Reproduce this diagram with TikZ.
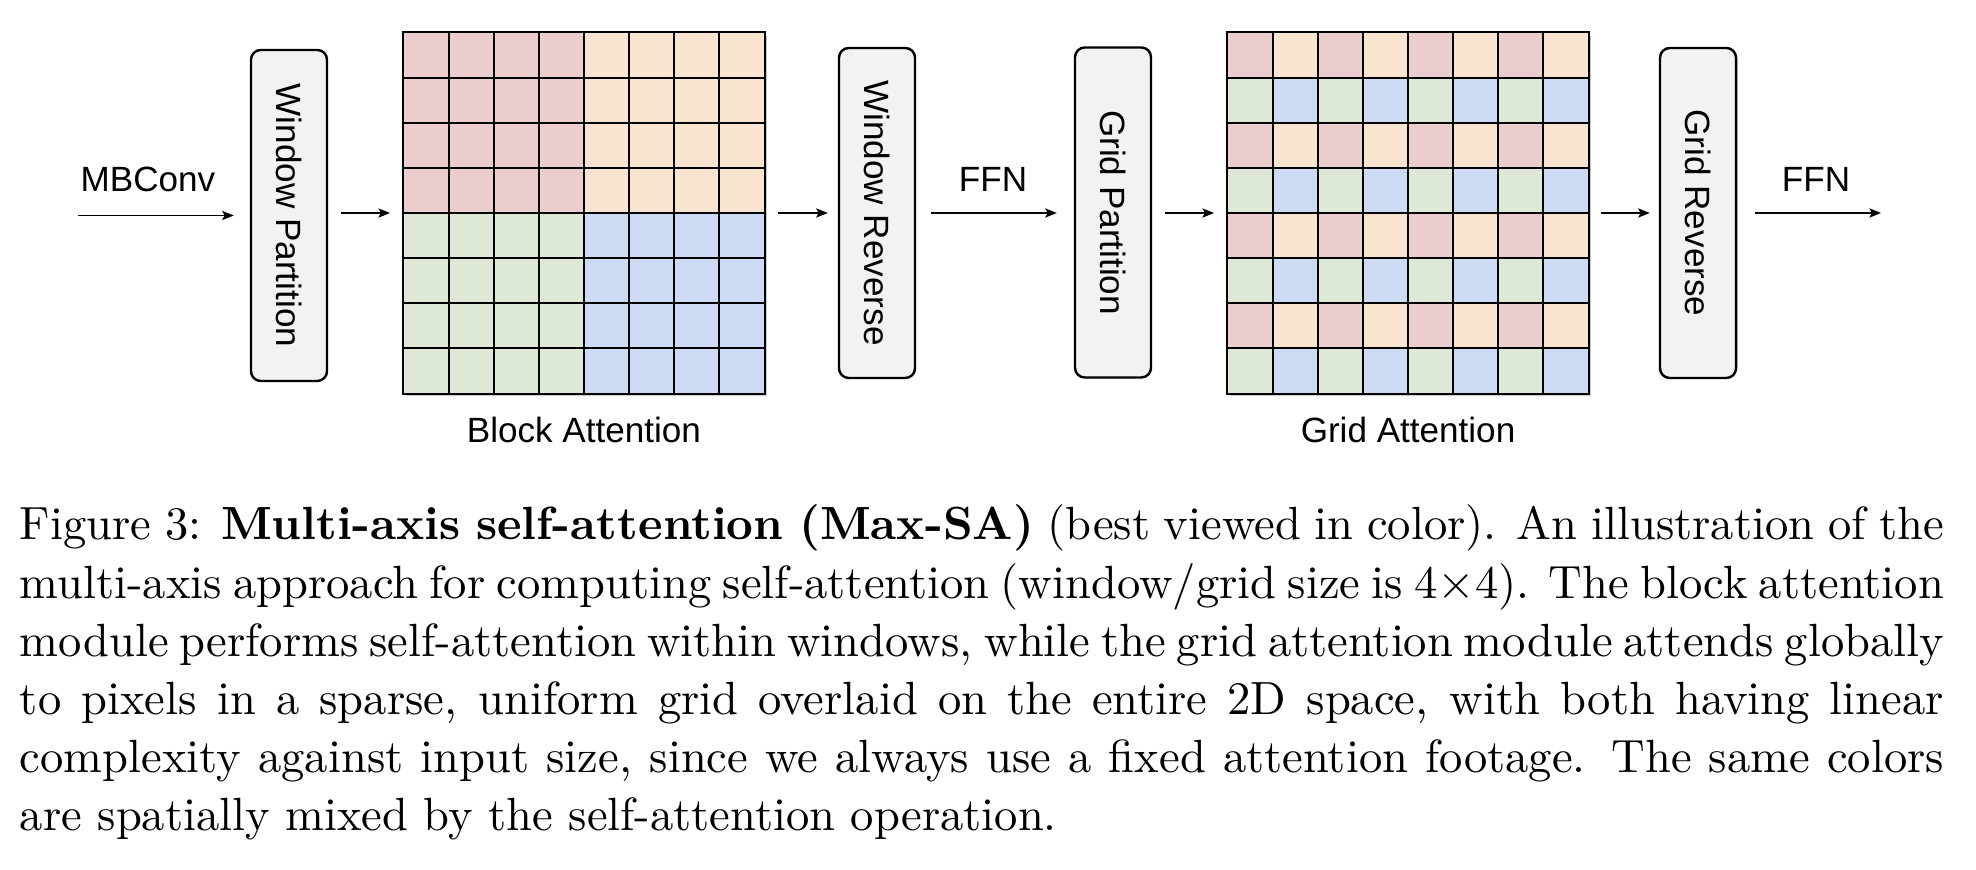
\documentclass[tikz,border=0pt]{standalone}
\usepackage{fontspec}
\newfontfamily\diagfont{Liberation Sans}
\usetikzlibrary{arrows.meta,shadows}
\newcommand{\pxu}{0.2066pt}
\definecolor{cell0}{HTML}{EBCDCD}
\definecolor{cell1}{HTML}{F9E5CF}
\definecolor{cell2}{HTML}{DDE8D6}
\definecolor{cell3}{HTML}{CCDAF3}
\definecolor{boxfill}{HTML}{F2F2F2}
\tikzset{
  boxnode/.style={draw=black, line width=0.5pt, fill=boxfill, rounded corners=2pt,
    minimum width=76*\pxu, minimum height=330*\pxu, inner sep=0pt},
  lbl/.style={font=\diagfont\fontsize{7.25}{8.7}\selectfont, inner sep=0pt},
  arr/.style={line width=0.3pt, -{Stealth[length=2.4pt,width=1.9pt,inset=0.5pt]}},
  gridnode/.style={fill=white, minimum size=360*\pxu, inner sep=0pt,
    drop shadow={shadow xshift=0.6pt, shadow yshift=-0.6pt, opacity=0.35, fill=black!60}},
  cellline/.style={line width=0.5pt},
  frameline/.style={line width=0.55pt},
}
\begin{document}
\begin{tikzpicture}[x=\pxu, y=-\pxu]
\useasboundingbox (0,0) rectangle (1976,870);

% boxes
\node[boxnode, minimum height=331*\pxu] (wp) at (289,215.5) {};
\node[lbl, rotate=-90] (wpl) at (wp.center) {Window Partition};
\node[boxnode] (wr) at (877,213) {};
\node[lbl, rotate=-90] (wrl) at (wr.center) {Window Reverse};
\node[boxnode] (gp) at (1113,212.5) {};
\node[lbl, rotate=-90] (gpl) at (gp.center) {Grid Partition};
\node[boxnode] (gr) at (1698,213) {};
\node[lbl, rotate=-90] (grl) at (gr.center) {Grid Reverse};

% block attention grid
\node[gridnode] (bgrid) at (584,213) {};
\fill[cell0] (404,33) rectangle (584,213);
\fill[cell1] (584,33) rectangle (764,213);
\fill[cell2] (404,213) rectangle (584,393);
\fill[cell3] (584,213) rectangle (764,393);
\foreach \k in {1,...,7} {
  \draw[cellline] (404+\k*45,33) -- (404+\k*45,393);
  \draw[cellline] (404,33+\k*45) -- (764,33+\k*45);
}
\draw[frameline] (bgrid.north west) rectangle (bgrid.south east);
\node[lbl, anchor=base] (bgl) at (584,443) {Block Attention};

% grid attention grid
\node[gridnode] (ggrid) at (1408,213) {};
\foreach \r in {0,...,7} {
  \foreach \c in {0,...,7} {
    \pgfmathtruncatemacro\ci{mod(\r,2)*2+mod(\c,2)}
    \fill[fill=cell\ci] (1228+\c*45,33+\r*45) rectangle ++(45,45);
  }
}
\foreach \k in {1,...,7} {
  \draw[cellline] (1228+\k*45,33) -- (1228+\k*45,393);
  \draw[cellline] (1228,33+\k*45) -- (1588,33+\k*45);
}
\draw[frameline] (ggrid.north west) rectangle (ggrid.south east);
\node[lbl, anchor=base] (ggl) at (1408,443) {Grid Attention};

% labels
\node[lbl, anchor=base] (mbl) at (148,192) {MBConv};
\node[lbl, anchor=base] (ffn1) at (993,192) {FFN};
\node[lbl, anchor=base] (ffn2) at (1816,192) {FFN};

% connectors
\coordinate (in) at (78,215.5);
\coordinate (out) at (1881,213);
\draw[arr, shorten >=16*\pxu] (in) -- (wp.west);
\draw[arr, shorten <=13*\pxu, shorten >=13*\pxu] (wp.east |- bgrid.west) -- (bgrid.west);
\draw[arr, shorten <=13*\pxu, shorten >=10*\pxu] (bgrid.east) -- (wr.west |- bgrid.east);
\draw[arr, shorten <=15*\pxu, shorten >=17*\pxu] (wr.east) -- (gp.west |- wr.east);
\draw[arr, shorten <=13*\pxu, shorten >=13*\pxu] (gp.east |- ggrid.west) -- (ggrid.west);
\draw[arr, shorten <=12*\pxu, shorten >=9*\pxu] (ggrid.east) -- (gr.west |- ggrid.east);
\draw[arr, shorten <=18*\pxu] (gr.east) -- (out);

% caption
\node[anchor=base west, inner sep=0pt, text width=397.5pt, align=justify,
  font=\fontsize{9.62}{12}\selectfont] (cap) at (19,540) {Figure 3: \textbf{Multi-axis self-attention (Max-SA)} (best viewed in color). An illustration of the\linebreak multi-axis approach for computing self-attention (window/grid size is 4$\times$4). The block attention\linebreak module performs self-attention within windows, while the grid attention module attends globally\linebreak to pixels in a sparse, uniform grid overlaid on the entire 2D space, with both having linear\linebreak complexity against input size, since we always use a fixed attention footage. The same colors\linebreak are spatially mixed by the self-attention operation.};
\end{tikzpicture}
\end{document}
